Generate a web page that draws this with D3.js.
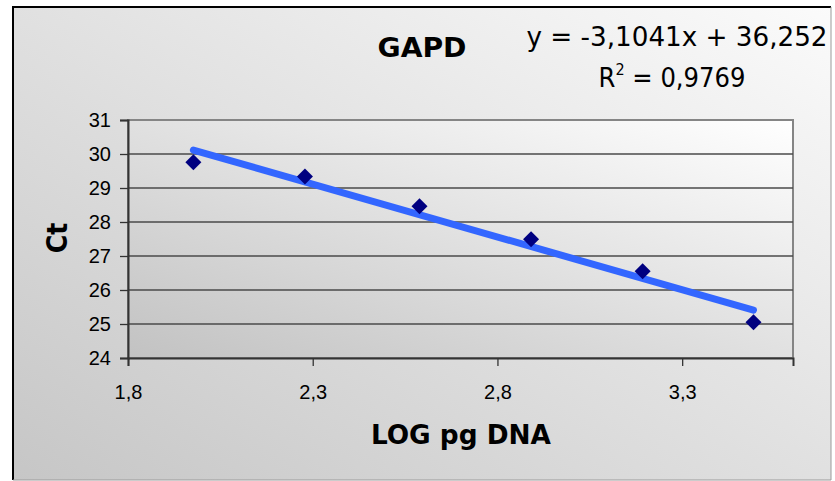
<!DOCTYPE html>
<html>
<head>
<meta charset="utf-8">
<script src="https://cdn.jsdelivr.net/npm/d3@7"></script>
<style>
  html, body { margin: 0; padding: 0; background: #ffffff; }
  svg { display: block; }
</style>
</head>
<body>
<div id="chart"></div>
<script>
// data
const logDna = [1.977, 2.279, 2.589, 2.891, 3.193, 3.493];
const ctValues = [29.76, 29.34, 28.46, 27.49, 26.55, 25.05];
const xTicks = [1.8, 2.3, 2.8, 3.3];
const yTicks = [24, 25, 26, 27, 28, 29, 30, 31];
const slope = -3.1041;
const intercept = 36.252;
const rSquared = 0.9769;

const W = 835, H = 481;
const plot = { left: 128, right: 793, top: 120, bottom: 358 };

const svg = d3.select('#chart').append('svg')
  .attr('width', W).attr('height', H);

const defs = svg.append('defs');
const outerGrad = defs.append('linearGradient').attr('id', 'outerGrad')
  .attr('x1', '100%').attr('y1', '0%').attr('x2', '0%').attr('y2', '100%');
outerGrad.append('stop').attr('offset', '0%').attr('stop-color', '#fbfbfb');
outerGrad.append('stop').attr('offset', '100%').attr('stop-color', '#c6c6c6');

const plotGrad = defs.append('linearGradient').attr('id', 'plotGrad')
  .attr('x1', '100%').attr('y1', '0%').attr('x2', '0%').attr('y2', '100%');
plotGrad.append('stop').attr('offset', '0%').attr('stop-color', '#ffffff');
plotGrad.append('stop').attr('offset', '100%').attr('stop-color', '#c2c2c2');

// chart area
svg.append('rect')
  .attr('x', 12).attr('y', 6).attr('width', 819).attr('height', 474)
  .attr('fill', 'url(#outerGrad)');
svg.append('path')
  .attr('d', 'M13,480 V7 H831')
  .attr('fill', 'none').attr('stroke', '#000').attr('stroke-width', 2);
svg.append('path')
  .attr('d', 'M13,480 H831 V7')
  .attr('fill', 'none').attr('stroke', '#9a9a9a').attr('stroke-width', 1);

const x = d3.scaleLinear().domain([1.8, 3.6]).range([plot.left, plot.right]);
const y = d3.scaleLinear().domain([24, 31]).range([plot.bottom, plot.top]);

// plot area
svg.append('rect')
  .attr('x', plot.left).attr('y', plot.top)
  .attr('width', plot.right - plot.left).attr('height', plot.bottom - plot.top)
  .attr('fill', 'url(#plotGrad)')
  .attr('stroke', '#858585').attr('stroke-width', 2);

// gridlines
svg.append('g').selectAll('line')
  .data(yTicks.slice(1, -1))
  .join('line')
  .attr('x1', plot.left).attr('x2', plot.right)
  .attr('y1', d => y(d)).attr('y2', d => y(d))
  .attr('stroke', '#4a4a4a').attr('stroke-width', 1.3);

const comma = d => String(d).replace('.', ',');
const sans = 'Liberation Sans, Arial, sans-serif';

// y axis
const yAxis = svg.append('g')
  .attr('transform', `translate(${plot.left},0)`)
  .call(d3.axisLeft(y).tickValues(yTicks).tickSize(8).tickPadding(9).tickFormat(comma));
yAxis.select('.domain').attr('stroke', '#333').attr('stroke-width', 2);
yAxis.selectAll('.tick line').attr('stroke', '#333').attr('stroke-width', 1.3);
yAxis.selectAll('.tick text')
  .style('font-family', sans).style('font-size', '20px').attr('fill', '#000');

// x axis
const xAxis = svg.append('g')
  .attr('transform', `translate(0,${plot.bottom})`)
  .call(d3.axisBottom(x).tickValues(xTicks).tickSize(8).tickPadding(19).tickFormat(comma));
xAxis.select('.domain').attr('stroke', '#333').attr('stroke-width', 2);
xAxis.selectAll('.tick line').attr('stroke', '#333').attr('stroke-width', 1.3);
xAxis.selectAll('.tick text')
  .style('font-family', sans).style('font-size', '20px').attr('fill', '#000');

// trend line over the data range
const xExt = d3.extent(logDna);
svg.append('line')
  .attr('x1', x(xExt[0])).attr('y1', y(slope * xExt[0] + intercept))
  .attr('x2', x(xExt[1])).attr('y2', y(slope * xExt[1] + intercept))
  .attr('stroke', '#3366ff').attr('stroke-width', 7)
  .attr('stroke-linecap', 'round');

// points
svg.append('g').selectAll('path')
  .data(logDna.map((d, i) => [d, ctValues[i]]))
  .join('path')
  .attr('d', d3.symbol(d3.symbolSquare, 128))
  .attr('transform', d => `translate(${x(d[0])},${y(d[1])}) rotate(45)`)
  .attr('fill', '#000080');

// titles
const condensed = 'DejaVu Sans Condensed, DejaVu Sans, sans-serif';
svg.append('text')
  .attr('x', 422).attr('y', 57)
  .attr('text-anchor', 'middle')
  .attr('font-family', condensed).attr('font-weight', 'bold')
  .attr('font-size', 27).attr('textLength', 89).attr('lengthAdjust', 'spacingAndGlyphs')
  .text('GAPD');

svg.append('text')
  .attr('x', 677).attr('y', 46)
  .attr('text-anchor', 'middle')
  .attr('font-family', condensed).attr('font-size', 27)
  .attr('textLength', 301).attr('lengthAdjust', 'spacingAndGlyphs')
  .text(`y = ${comma(slope)}x + ${comma(intercept)}`);

const r2 = svg.append('text')
  .attr('x', 672).attr('y', 87)
  .attr('text-anchor', 'middle')
  .attr('font-family', condensed).attr('font-size', 27);
r2.append('tspan').text('R');
r2.append('tspan').attr('dy', -12).attr('font-size', 16).text('2');
r2.append('tspan').attr('dy', 12).text(` = ${comma(rSquared)}`);

svg.append('text')
  .attr('x', 461).attr('y', 444)
  .attr('text-anchor', 'middle')
  .attr('font-family', condensed).attr('font-weight', 'bold')
  .attr('font-size', 26).attr('textLength', 180).attr('lengthAdjust', 'spacingAndGlyphs')
  .text('LOG pg DNA');

svg.append('text')
  .attr('transform', 'translate(67,238) rotate(-90)')
  .attr('text-anchor', 'middle')
  .attr('font-family', condensed).attr('font-weight', 'bold')
  .attr('font-size', 28)
  .text('Ct');
</script>
</body>
</html>
